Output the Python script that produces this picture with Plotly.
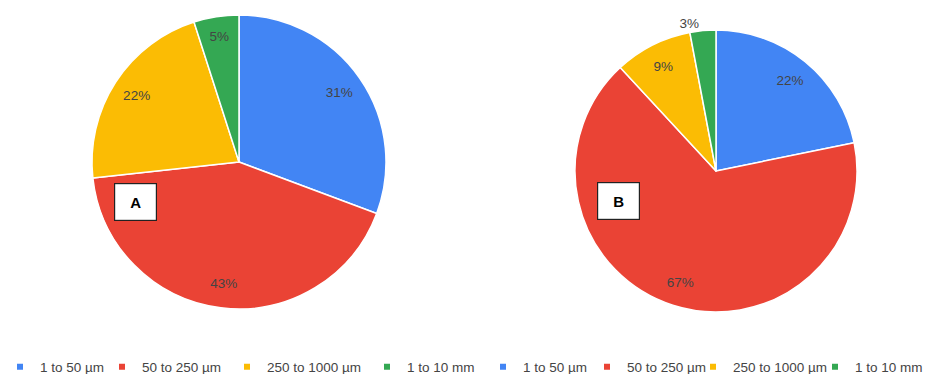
import plotly.graph_objects as go

W, H = 937, 374

categories = ["1 to 50 µm", "50 to 250 µm", "250 to 1000 µm", "1 to 10 mm"]
colors = ["#4285F4", "#EA4335", "#FBBC04", "#34A853"]
values_a = [31, 43, 22, 5]
values_b = [22, 67, 9, 3]
panel_labels = ["A", "B"]

# legend entry widths (px) per legend, to reproduce the spacing of the original
legend_entry_widths = {"legend": [57, 80, 95, 70], "legend2": [59, 61, 77, 70]}

fig = go.Figure()

def px_x(p):
    return p / W

def px_y(p):
    return 1 - p / H

text_font = dict(family="Arial, Liberation Sans", size=13.5, color="#444444")

def add_pie(values, dom, textpos):
    # filled pie (slices)
    fig.add_trace(go.Pie(
        labels=categories, values=values, sort=False, direction="clockwise", rotation=0,
        marker=dict(colors=colors, line=dict(color="white", width=1.5)),
        textinfo="none", domain=dom, showlegend=False, hoverinfo="label+percent",
    ))
    # transparent ring overlay carrying the percentage labels near the rim
    fig.add_trace(go.Pie(
        labels=categories, values=values, sort=False, direction="clockwise", rotation=0,
        hole=0.66,
        marker=dict(colors=["rgba(0,0,0,0)"] * len(values), line=dict(width=0)),
        texttemplate="%{value}%", textposition=textpos, insidetextorientation="horizontal",
        textfont=text_font, domain=dom, showlegend=False, hoverinfo="skip",
    ))

add_pie(values_a, dict(x=[px_x(92), px_x(386)], y=[px_y(309), px_y(15)]), "inside")
add_pie(values_b, dict(x=[px_x(575), px_x(857)], y=[px_y(312), px_y(30)]),
        ["inside", "inside", "inside", "outside"])

# Legend entries (small square markers)
for leg in ["legend", "legend2"]:
    for cat, col, lw in zip(categories, colors, legend_entry_widths[leg]):
        fig.add_trace(go.Scatter(
            x=[None], y=[None], mode="markers", name=cat,
            marker=dict(symbol="square", size=6, color=col),
            legend=leg, legendwidth=lw, showlegend=True, hoverinfo="skip",
        ))

legend_common = dict(
    orientation="h", yanchor="middle", xanchor="left",
    font=dict(family="Arial, Liberation Sans", size=13.5, color="#444444"),
    bgcolor="rgba(0,0,0,0)", itemclick=False, itemdoubleclick=False,
)

fig.update_layout(
    width=W, height=H,
    margin=dict(l=0, r=0, t=0, b=0, autoexpand=False),
    paper_bgcolor="white", plot_bgcolor="white",
    xaxis=dict(visible=False), yaxis=dict(visible=False),
    legend=dict(x=0, y=px_y(367), **legend_common),
    legend2=dict(x=px_x(483), y=px_y(367), **legend_common),
)

box_centers = [(135.5, 201.5), (618.5, 201)]
for lab, (cx, cy) in zip(panel_labels, box_centers):
    fig.add_annotation(
        xref="paper", yref="paper", x=px_x(cx), y=px_y(cy),
        xanchor="center", yanchor="middle",
        text=f"<b>{lab}</b>", showarrow=False,
        font=dict(family="Liberation Sans, Arial", size=15, color="black"),
        bgcolor="white", bordercolor="#222222", borderwidth=1.2,
        width=41, height=36, borderpad=0, align="center", valign="middle",
    )

fig.write_html("out.html")
